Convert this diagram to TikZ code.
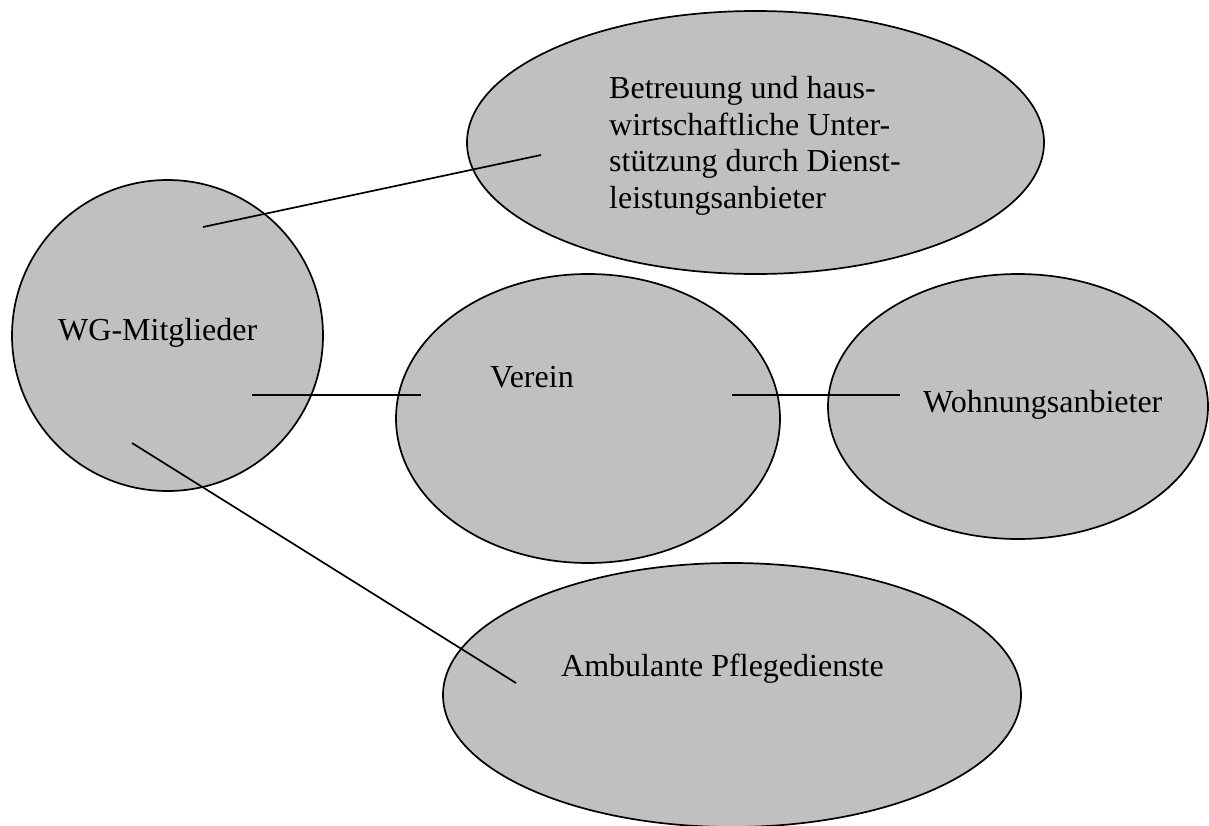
\documentclass[tikz,border=0pt]{standalone}
\usepackage{fontspec}
\setmainfont{Liberation Serif}
\usetikzlibrary{shapes.geometric}
\definecolor{blobgray}{RGB}{192,192,192}
\tikzset{
  blob/.style={ellipse, draw=black, line width=1.7pt, fill=blobgray, inner sep=0pt},
  lbl/.style={anchor=base west, inner sep=0pt, align=left, font=\fontsize{32}{36.5}\selectfont},
  link/.style={draw=black, line width=1.7pt}
}
\begin{document}
\begin{tikzpicture}[x=1pt,y=-1pt]
\useasboundingbox[fill=white] (0,0) rectangle (1209,825);
% ellipses
\node[blob, minimum width=311pt, minimum height=311pt] (wg) at (167.5,335.5) {};
\node[blob, minimum width=577pt, minimum height=263pt] (bt) at (755.5,142.5) {};
\node[blob, minimum width=384pt, minimum height=289pt] (ve) at (588,418.5) {};
\node[blob, minimum width=380pt, minimum height=265pt] (wo) at (1018,406.5) {};
\node[blob, minimum width=578pt, minimum height=264pt] (am) at (732,695) {};
% texts
\node[lbl] (wgt) at (58,340) {WG-Mitglieder};
\node[lbl] (btt) at (609,208) {Betreuung und haus-\\wirtschaftliche Unter-\\stützung durch Dienst-\\leistungsanbieter};
\node[lbl] (vet) at (490,387) {Verein};
\node[lbl] (wot) at (923,412) {Wohnungsanbieter};
\node[lbl] (amt) at (561,676) {Ambulante Pflegedienste};
% connector end points
\coordinate (wg1) at (203,227);
\coordinate (bt1) at (541,155);
\coordinate (wg2) at (252,395);
\coordinate (ve1) at (421,395);
\coordinate (ve2) at (732,395);
\coordinate (wo1) at (900,395);
\coordinate (wg3) at (132,443);
\coordinate (am1) at (516,683);
% connectors
\draw[link] (wg1) -- (bt1);
\draw[link] (wg2) -- (ve1);
\draw[link] (ve2) -- (wo1);
\draw[link] (wg3) -- (am1);
\end{tikzpicture}
\end{document}
